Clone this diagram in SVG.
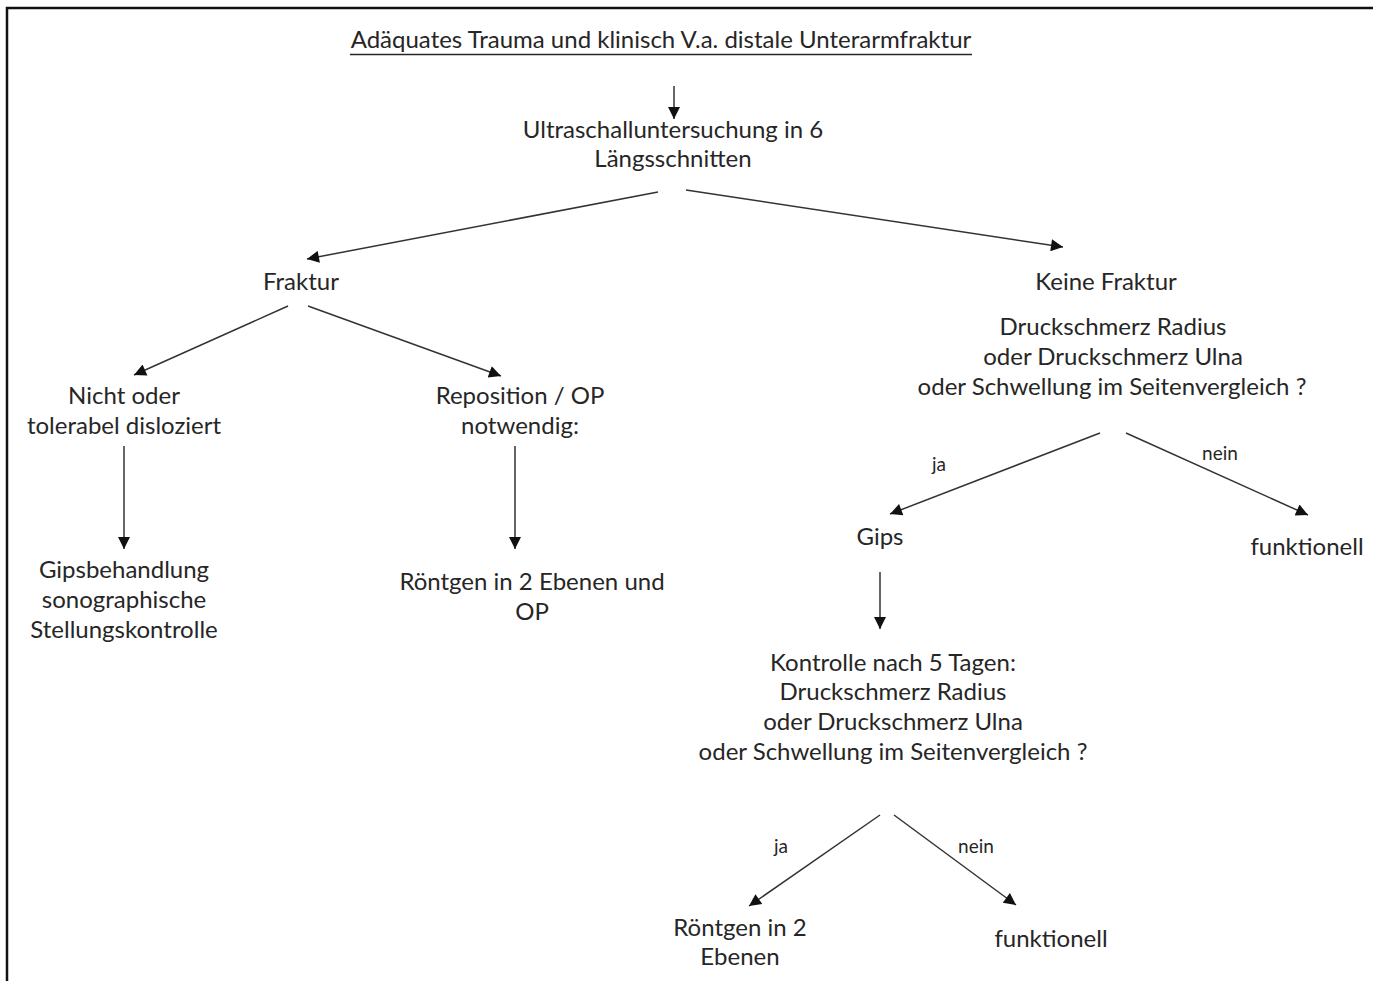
<svg xmlns="http://www.w3.org/2000/svg" width="1373" height="981" viewBox="0 0 1373 981">
<style>
text{font-family:"Lato","Open Sans","Liberation Sans",sans-serif;font-size:24px;fill:#262626;text-anchor:middle}
.s{font-size:19px}
.c{stroke:#333;stroke-width:1.5;fill:none;marker-end:url(#ah)}
</style>
<defs>
<marker id="ah" viewBox="0 0 10 10" refX="10" refY="5" markerWidth="14" markerHeight="12" markerUnits="userSpaceOnUse" orient="auto">
<path d="M0,0 L10,5 L0,10 z" fill="#111"/>
</marker>
</defs>
<rect width="1373" height="981" fill="#fff"/>
<path d="M7,981 V8 H1373" fill="none" stroke="#111" stroke-width="2.5"/>
<g id="connectors">
<line class="c" x1="674" y1="86" x2="674" y2="119"/>
<line class="c" x1="658" y1="192" x2="307" y2="259"/>
<line class="c" x1="686" y1="190" x2="1063" y2="247"/>
<line class="c" x1="288" y1="306" x2="134" y2="375"/>
<line class="c" x1="308" y1="306" x2="501" y2="376"/>
<line class="c" x1="124" y1="446" x2="124" y2="549"/>
<line class="c" x1="515" y1="446" x2="515" y2="549"/>
<line class="c" x1="1100" y1="433" x2="890" y2="514"/>
<line class="c" x1="1126" y1="433" x2="1308" y2="515"/>
<line class="c" x1="880" y1="572" x2="880" y2="629"/>
<line class="c" x1="880" y1="815" x2="749" y2="906"/>
<line class="c" x1="894" y1="815" x2="1016" y2="905"/>
<text class="s" x="939" y="471">ja</text>
<text class="s" x="1220" y="460">nein</text>
<text class="s" x="781" y="853">ja</text>
<text class="s" x="976" y="853">nein</text>
</g>
<g id="title"><text x="661" y="48">Adäquates Trauma und klinisch V.a. distale Unterarmfraktur</text>
<line x1="350" y1="54.5" x2="972" y2="54.5" stroke="#262626" stroke-width="1.6"/></g>
<g id="us"><text x="673" y="138">Ultraschalluntersuchung in 6</text><text x="673" y="167">Längsschnitten</text></g>
<g id="fraktur"><text x="301" y="290">Fraktur</text></g>
<g id="keine"><text x="1106" y="290">Keine Fraktur</text>
<text x="1113" y="335">Druckschmerz Radius</text><text x="1113" y="365">oder Druckschmerz Ulna</text><text x="1112" y="395">oder Schwellung im Seitenvergleich ?</text></g>
<g id="nicht"><text x="124" y="404">Nicht oder</text><text x="124" y="434">tolerabel disloziert</text></g>
<g id="repo"><text x="520" y="404">Reposition / OP</text><text x="520" y="434">notwendig:</text></g>
<g id="gipsb"><text x="124" y="578">Gipsbehandlung</text><text x="124" y="608">sonographische</text><text x="124" y="638">Stellungskontrolle</text></g>
<g id="rop"><text x="532" y="590">Röntgen in 2 Ebenen und</text><text x="532" y="620">OP</text></g>
<g id="gips"><text x="880" y="545">Gips</text></g>
<g id="funk1"><text x="1307" y="555">funktionell</text></g>
<g id="kontrolle"><text x="893" y="671">Kontrolle nach 5 Tagen:</text><text x="893" y="700">Druckschmerz Radius</text><text x="893" y="730">oder Druckschmerz Ulna</text><text x="893" y="760">oder Schwellung im Seitenvergleich ?</text></g>
<g id="r2"><text x="740" y="936">Röntgen in 2</text><text x="740" y="965">Ebenen</text></g>
<g id="funk2"><text x="1051" y="947">funktionell</text></g>
</svg>
